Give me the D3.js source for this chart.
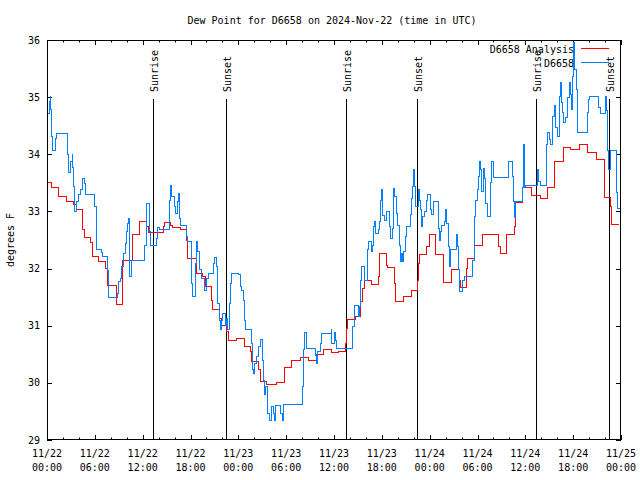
<!DOCTYPE html>
<html>
<head>
<meta charset="utf-8">
<script src="https://cdn.jsdelivr.net/npm/d3@7"></script>
<style>
  body { margin: 0; background: #fff; }
  text { font-family: "DejaVu Sans Mono", monospace; font-size: 10px; fill: #000; }
</style>
</head>
<body>
<div id="chart"></div>
<script>
// hours since 2024-11-22 00:00 UTC, dew point in F
const analysis = [
  [0,33.51],[0.59,33.42],[1.42,33.27],[2.47,33.18],[3.30,33.13],[3.64,33.04],[4.48,32.68],[4.68,32.55],
  [5.40,32.46],[5.68,32.22],[6.52,32.12],[7.28,32.0],[7.62,31.7],[8.66,31.51],[8.75,31.37],[9.50,32.14],
  [10.70,32.6],[11.63,32.83],[12.51,32.73],[12.71,32.64],[14.59,32.73],[14.77,32.81],[15.43,32.76],
  [15.72,32.72],[16.69,32.69],[17.53,32.5],[17.65,32.18],[18.70,31.92],[19.54,31.86],[19.82,31.69],
  [20.66,31.45],[20.74,31.29],[21.58,31.13],[21.83,31.01],[22.55,30.9],[22.75,30.75],[23.71,30.77],
  [24.72,30.63],[25.56,30.55],[25.68,30.37],[26.51,30.23],[26.73,30.02],[27.57,29.98],[28.73,30.01],
  [29.74,30.27],[30.70,30.4],[31.74,30.45],[32.79,30.4],[33.75,30.49],[34.67,30.58],[35.72,30.53],
  [36.55,30.55],[37.48,30.69],[37.60,30.95],[37.73,31.11],[38.65,31.17],[39.36,31.42],[39.56,31.65],
  [39.81,31.8],[40.74,31.72],[41.57,31.86],[41.69,32.27],[42.62,32.06],[42.75,32.02],[43.58,31.74],
  [43.66,31.58],[43.75,31.42],[44.71,31.51],[45.67,31.62],[46.51,31.8],[46.59,32.09],[46.68,32.25],
  [47.64,32.38],[47.97,32.6],[48.77,32.24],[49.72,31.76],[50.69,31.92],[50.78,31.99],[51.69,31.8],
  [51.82,31.67],[52.66,32.0],[52.79,32.18],[53.61,32.41],[54.62,32.6],[56.62,32.38],[56.84,32.27],
  [57.59,32.6],[58.59,32.73],[58.72,33.15],[59.69,33.42],[60.82,33.28],[61.86,33.22],[62.77,33.42],
  [63.65,33.87],[64.78,34.12],[65.62,34.09],[66.79,34.17],[67.79,34.03],[68.97,33.91],[69.89,33.25],
  [70.64,33.09],[70.85,32.77],[71.75,32.77]
];

const observed = [
  [0,34.72],[0.29,34.92],[0.38,35.02],[0.50,34.78],[0.59,34.31],[0.72,34.06],[1.09,34.28],[1.22,34.36],
  [2.55,33.99],[2.67,33.68],[3.01,33.87],[3.17,33.99],[3.22,33.77],[3.30,33.43],[3.43,33.0],[3.73,33.17],
  [3.93,33.29],[4.23,33.38],[4.43,33.58],[4.68,33.49],[4.86,33.3],[6.02,33.08],[6.15,32.33],[6.78,32.28],
  [6.99,32.21],[7.62,31.96],[7.69,31.5],[8.82,31.57],[8.95,31.77],[9.25,31.83],[9.37,32.03],[9.57,32.27],
  [9.79,32.44],[10.0,32.65],[10.08,32.79],[10.20,32.88],[10.29,32.33],[10.41,31.86],[10.54,32.15],
  [12.21,32.41],[12.42,32.91],[12.51,33.14],[12.84,32.65],[12.92,32.41],[13.76,32.53],[13.89,32.72],
  [14.05,32.69],[15.35,33.2],[15.47,33.46],[15.56,33.26],[15.97,33.08],[16.15,32.97],[16.35,33.17],
  [16.47,33.32],[16.60,32.88],[16.78,32.76],[17.44,32.56],[17.60,32.47],[18.07,32.38],[18.16,31.74],
  [18.28,31.51],[18.57,32.09],[18.73,32.47],[18.86,32.3],[19.11,31.98],[19.32,31.83],[19.74,31.62],
  [20.04,31.83],[20.24,31.92],[20.87,32.09],[20.99,32.2],[21.29,32.03],[21.42,31.39],[21.58,31.1],
  [21.71,30.93],[21.83,31.1],[22.0,31.22],[22.33,31.01],[22.50,31.13],[22.67,30.93],[22.84,31.39],
  [22.96,31.74],[23.09,31.92],[24.0,31.89],[24.22,31.68],[24.43,31.62],[24.63,31.45],[24.76,31.1],
  [24.84,30.93],[25.68,30.69],[25.76,30.23],[25.88,30.17],[26.01,30.34],[26.31,30.46],[26.51,30.63],
  [26.73,30.76],[27.01,30.4],[27.14,30.05],[27.26,29.79],[27.35,29.93],[27.64,29.47],[27.85,29.35],
  [28.19,29.58],[28.39,29.47],[28.48,29.35],[28.69,29.61],[29.23,29.47],[29.49,29.35],[29.65,29.62],
  [32.08,29.93],[32.16,30.58],[32.28,30.88],[32.50,30.6],[33.66,30.48],[33.84,30.34],[33.96,30.55],
  [34.25,30.69],[34.47,30.87],[35.63,30.93],[35.72,30.69],[36.01,30.88],[36.14,30.75],[36.35,30.6],
  [38.36,30.99],[38.52,31.36],[39.06,31.16],[39.18,31.33],[39.36,31.8],[39.49,32.03],[39.77,31.8],
  [40.19,32.33],[40.31,32.47],[40.65,32.3],[40.82,32.41],[40.95,32.73],[41.07,32.82],[41.24,32.62],
  [41.57,32.68],[41.69,32.82],[41.87,33.2],[41.99,33.38],[42.12,32.93],[42.32,32.85],[42.53,33.0],
  [42.95,32.73],[43.12,32.53],[43.29,32.7],[43.45,33.4],[43.58,33.26],[43.79,32.97],[43.95,32.76],
  [44.17,32.41],[44.29,32.12],[44.42,32.27],[44.58,32.12],[44.71,32.3],[44.92,32.56],[45.13,32.73],
  [45.55,32.94],[45.67,33.23],[45.88,33.43],[45.96,33.73],[46.08,33.43],[46.26,33.08],[46.59,33.38],
  [46.71,33.2],[46.89,33.03],[47.01,32.73],[47.14,32.91],[47.30,33.0],[47.64,33.2],[47.77,33.3],
  [48.06,33.03],[48.27,32.94],[48.47,33.18],[49.10,32.7],[49.22,32.5],[49.31,32.65],[49.52,32.76],
  [49.81,32.82],[49.94,33.04],[50.15,32.79],[50.35,32.38],[50.48,32.03],[50.65,32.33],[51.41,32.59],
  [51.53,32.38],[51.61,31.98],[51.73,31.6],[52.16,31.8],[52.36,31.87],[53.36,32.15],[53.61,32.91],
  [53.79,33.2],[53.99,33.38],[54.12,33.61],[54.24,33.87],[54.42,33.73],[54.54,33.35],[54.74,33.76],
  [54.87,33.58],[55.04,33.14],[55.29,32.91],[55.67,33.5],[55.80,33.87],[56.0,33.6],[57.88,33.87],
  [58.38,33.62],[58.51,33.17],[58.59,32.89],[58.72,33.18],[59.69,33.42],[59.76,34.17],[59.89,33.42],
  [59.97,33.46],[61.52,33.74],[61.64,33.52],[61.86,33.46],[62.61,33.86],[62.70,34.17],[62.82,34.38],
  [62.99,34.26],[63.11,34.17],[63.45,34.67],[63.61,34.85],[63.83,34.47],[64.03,34.32],[64.24,35.02],
  [64.37,35.25],[64.49,34.9],[64.66,34.73],[64.78,34.55],[65.08,34.64],[65.33,34.99],[65.50,35.25],
  [65.62,35.05],[65.75,34.79],[65.91,35.37],[66.04,35.96],[66.17,35.49],[66.37,35.14],[66.59,34.38],
  [67.79,34.73],[67.92,34.96],[68.04,35.02],[69.17,34.82],[69.38,34.72],[70.01,35.02],[70.14,34.76],
  [70.30,34.06],[70.43,33.74],[70.64,34.06],[71.48,33.33],[71.61,33.05],[71.95,33.05]
];

const sunEvents = [
  ["Sunrise", 13.34], ["Sunset", 22.50], ["Sunrise", 37.48],
  ["Sunset", 46.46], ["Sunrise", 61.35], ["Sunset", 70.55]
];

const yTicks = [29, 30, 31, 32, 33, 34, 35, 36];

const startMs = Date.UTC(2024, 10, 22);
const t = h => new Date(startMs + h * 3600e3);

const svg = d3.select("#chart")
  .append("svg")
  .attr("width", 640)
  .attr("height", 480);

const plotL = 47, plotR = 621, plotT = 40, plotB = 440;

const x = d3.scaleUtc()
  .domain([t(0), t(72)])
  .range([plotL, plotR]);

const y = d3.scaleLinear()
  .domain([29, 36])
  .range([plotB, plotT]);

// title + axis label
svg.append("text")
  .attr("x", 332).attr("y", 20).attr("dy", "0.35em")
  .attr("text-anchor", "middle")
  .text("Dew Point for D6658 on 2024-Nov-22 (time in UTC)");

svg.append("text")
  .attr("transform", "translate(10,240) rotate(-90)")
  .attr("dy", "0.35em")
  .attr("text-anchor", "middle")
  .text("degrees F");

// ticks (inward, on all four sides)
const minor = x.ticks(d3.utcHour.every(2));
const major = x.ticks(d3.utcHour.every(6));
const ticks = svg.append("g").attr("stroke", "#000").attr("stroke-width", 1);

minor.forEach(d => {
  const px = Math.round(x(d)) + 0.5;
  const len = major.some(m => +m === +d) ? 5 : 2.5;
  ticks.append("line").attr("x1", px).attr("x2", px).attr("y1", plotB).attr("y2", plotB - len);
  ticks.append("line").attr("x1", px).attr("x2", px).attr("y1", plotT).attr("y2", plotT + len);
});

yTicks.forEach(v => {
  const py = Math.round(y(v)) + 0.5;
  ticks.append("line").attr("x1", plotL).attr("x2", plotL + 5).attr("y1", py).attr("y2", py);
  ticks.append("line").attr("x1", plotR).attr("x2", plotR - 5).attr("y1", py).attr("y2", py);
  svg.append("text")
    .attr("x", 40).attr("y", y(v)).attr("dy", "0.35em")
    .attr("text-anchor", "end")
    .text(v);
});

const fmtDay = d3.utcFormat("%m/%d"), fmtTime = d3.utcFormat("%H:%M");
major.forEach(d => {
  svg.append("text").attr("x", x(d)).attr("y", 453).attr("dy", "0.35em")
    .attr("text-anchor", "middle").text(fmtDay(d));
  svg.append("text").attr("x", x(d)).attr("y", 467).attr("dy", "0.35em")
    .attr("text-anchor", "middle").text(fmtTime(d));
});

// sunrise / sunset markers
sunEvents.forEach(([name, h]) => {
  const px = Math.round(x(t(h))) + 0.5;
  svg.append("line")
    .attr("x1", px).attr("x2", px).attr("y1", 99).attr("y2", plotB)
    .attr("stroke", "#000").attr("stroke-width", 1);
  svg.append("text")
    .attr("transform", `translate(${px + 4},92) rotate(-90)`)
    .attr("text-anchor", "start")
    .text(name);
});

// legend
const legend = [["D6658 Analysis", "#ff0000", 49], ["D6658", "#0080ff", 63]];
legend.forEach(([label, color, ly]) => {
  svg.append("text").attr("x", 574).attr("y", ly).attr("dy", "0.35em")
    .attr("text-anchor", "end").text(label);
  svg.append("line").attr("x1", 581).attr("x2", 609)
    .attr("y1", ly - 0.5).attr("y2", ly - 0.5)
    .attr("stroke", color).attr("stroke-width", 1);
});

// series
svg.append("clipPath").attr("id", "plot")
  .append("rect").attr("x", plotL).attr("y", plotT)
  .attr("width", plotR - plotL).attr("height", plotB - plotT);

const line = d3.line()
  .curve(d3.curveStepAfter)
  .x(d => x(t(d[0])))
  .y(d => y(d[1]));

svg.append("path")
  .datum(analysis)
  .attr("clip-path", "url(#plot)")
  .attr("fill", "none")
  .attr("stroke", "#ff0000")
  .attr("stroke-width", 1)
  .attr("shape-rendering", "crispEdges")
  .attr("d", line);

svg.append("path")
  .datum(observed)
  .attr("clip-path", "url(#plot)")
  .attr("fill", "none")
  .attr("stroke", "#0080ff")
  .attr("stroke-width", 1)
  .attr("shape-rendering", "crispEdges")
  .attr("d", line);

// border
svg.append("rect")
  .attr("x", plotL + 0.5).attr("y", plotT + 0.5)
  .attr("width", plotR - plotL - 1).attr("height", plotB - plotT - 1)
  .attr("fill", "none").attr("stroke", "#000").attr("stroke-width", 1);
</script>
</body>
</html>
